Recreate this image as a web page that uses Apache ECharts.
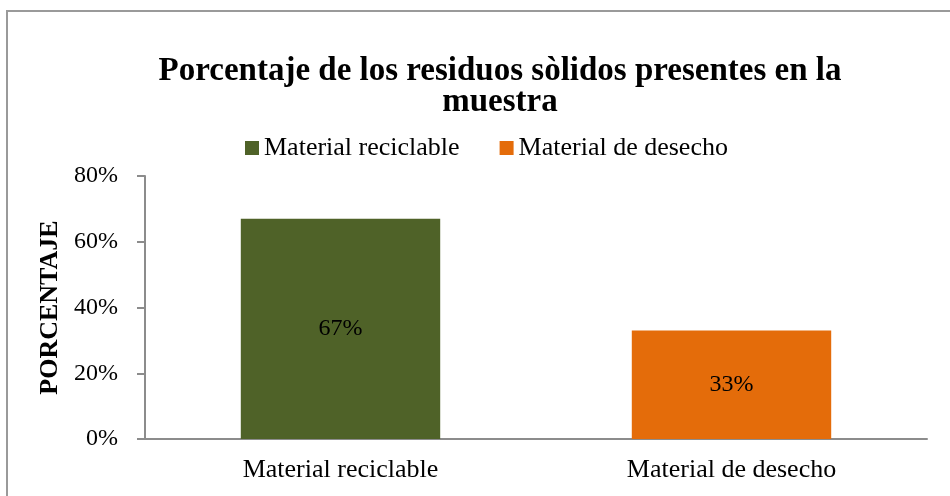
<!DOCTYPE html>
<html>
<head>
<meta charset="utf-8">
<script src="https://cdn.jsdelivr.net/npm/echarts@6/dist/echarts.min.js"></script>
<style>
  html, body { margin: 0; padding: 0; background: #fff; }
  #chart { width: 950px; height: 496px; }
</style>
</head>
<body>
<div id="chart"></div>
<script>
// datos
var categorias = ["Material reciclable", "Material de desecho"];
var reciclable = [0.67, "-"];
var desecho = ["-", 0.33];
var ticksY = [0, 0.2, 0.4, 0.6, 0.8];

var serif = "Liberation Serif";
var chart = echarts.init(document.getElementById("chart"));

function pct(v) { return Math.round(v * 100) + "%"; }

var option = {
  animation: false,
  graphic: [{
    type: "rect",
    shape: { x: 7, y: 11, width: 1000, height: 600 },
    style: { fill: "none", stroke: "#9a9a9a", lineWidth: 2 }
  }],
  title: {
    text: "Porcentaje de los residuos sòlidos presentes en la\nmuestra",
    left: 495,
    textAlign: "center",
    top: 51,
    textStyle: {
      fontFamily: serif,
      fontWeight: "bold",
      fontSize: 33,
      lineHeight: 31,
      color: "#000"
    }
  },
  legend: {
    left: 240,
    top: 130,
    icon: "rect",
    itemWidth: 14,
    itemHeight: 14,
    itemGap: 40,
    textStyle: { fontFamily: serif, fontSize: 26, color: "#000" }
  },
  grid: { left: 145, right: 23, top: 176, bottom: 57 },
  xAxis: {
    type: "category",
    data: categorias,
    axisLine: { lineStyle: { color: "#8c8c8c", width: 2 } },
    axisTick: { show: false },
    axisLabel: { fontFamily: serif, fontSize: 26, color: "#000", margin: 18 }
  },
  yAxis: {
    type: "value",
    min: ticksY[0],
    max: ticksY[ticksY.length - 1],
    interval: 0.2,
    name: "PORCENTAJE",
    nameLocation: "middle",
    nameRotate: 90,
    nameGap: 82,
    nameTextStyle: { fontFamily: serif, fontWeight: "bold", fontSize: 26, color: "#000" },
    axisLine: { show: true, lineStyle: { color: "#8c8c8c", width: 2 } },
    axisTick: { show: true, length: 8, lineStyle: { color: "#8c8c8c", width: 2 } },
    splitLine: { show: false },
    axisLabel: { fontFamily: serif, fontSize: 24, color: "#000", margin: 27, formatter: pct }
  },
  series: [
    {
      name: "Material reciclable",
      type: "bar",
      data: reciclable,
      barWidth: "51%",
      barGap: "-100%",
      itemStyle: { color: "#4f6228" },
      label: {
        show: true, position: "inside", fontFamily: serif, fontSize: 24, color: "#000",
        formatter: function (p) { return pct(p.value); }
      }
    },
    {
      name: "Material de desecho",
      type: "bar",
      data: desecho,
      barWidth: "51%",
      itemStyle: { color: "#e46c0a" },
      label: {
        show: true, position: "inside", fontFamily: serif, fontSize: 24, color: "#000",
        formatter: function (p) { return pct(p.value); }
      }
    }
  ]
};
chart.setOption(option);
</script>
</body>
</html>
